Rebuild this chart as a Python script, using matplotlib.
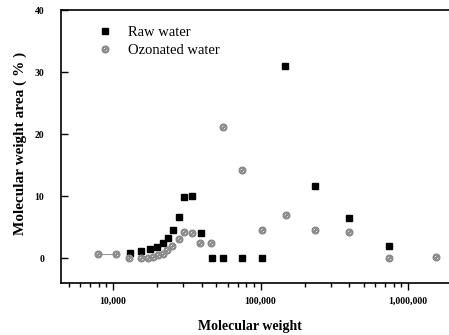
import matplotlib
matplotlib.use("Agg")
import matplotlib.pyplot as plt
from matplotlib.ticker import FixedLocator, LogLocator, NullFormatter

# molecular weight distribution
raw_mw = [13000, 15500, 17800, 20000, 21700, 23600, 25600, 28000, 30400, 34100,
          39300, 46700, 56000, 75300, 101900, 146600, 234000, 400000, 747000]
raw_area = [0.9, 1.1, 1.45, 1.85, 2.4, 3.2, 4.6, 6.7, 9.9, 10.1,
            4.0, 0.0, 0.0, 0.0, 0.0, 30.9, 11.7, 6.45, 1.95]

oz_mw = [7950, 10400, 12900, 15400, 17300, 18700, 20300, 21700, 23400, 25000,
         28000, 30400, 34100, 39100, 45900, 56000, 74600, 101900, 149000, 234000,
         400000, 747000, 1540000]
oz_area = [0.65, 0.65, 0.05, 0.05, 0.1, 0.25, 0.45, 0.75, 1.3, 1.9,
           3.1, 4.25, 4.1, 2.4, 2.5, 21.2, 14.2, 4.6, 6.9, 4.5,
           4.2, 0.1, 0.2]

y_ticks = [0, 10, 20, 30, 40]
x_ticks = [1e4, 1e5, 1e6]
x_labels = ["10,000", "100,000", "1,000,000"]

serif = ["Liberation Serif", "DejaVu Serif"]

fig = plt.figure(figsize=(4.49, 3.35), dpi=100)
ax = fig.add_axes([0.1359, 0.1552, 0.8717, 0.8149])

ax.plot(oz_mw[:2], oz_area[:2], "-", color="#999999", lw=0.8, zorder=2)
ax.plot(raw_mw, raw_area, ls="none", marker="s", ms=4.5, color="black",
        label="Raw water", zorder=3)
ax.plot(oz_mw, oz_area, ls="none", marker="$\\oslash$", ms=4.8, color="#8c8c8c",
        label="Ozonated water", zorder=3)

ax.set_xscale("log")
ax.set_xlim(4441, 2.0e6)
ax.set_ylim(-4, 40)

ax.xaxis.set_major_locator(FixedLocator(x_ticks))
ax.set_xticklabels(x_labels)
ax.xaxis.set_minor_locator(LogLocator(base=10, subs=range(2, 10)))
ax.xaxis.set_minor_formatter(NullFormatter())
ax.set_yticks(y_ticks)
ax.tick_params(axis="x", which="major", direction="out", length=5, width=1, pad=5)
ax.tick_params(axis="x", which="minor", direction="out", length=3, width=1)
ax.tick_params(axis="y", direction="in", length=5, width=1, pad=12)
ax.tick_params(top=False, right=False)
for lab in ax.get_xticklabels() + ax.get_yticklabels():
    lab.set_fontfamily(serif)
    lab.set_fontweight("bold")
    lab.set_fontsize(7)

ax.spines["right"].set_visible(False)
for s in ("left", "bottom", "top"):
    ax.spines[s].set_linewidth(1.2)

ax.set_xlabel("Molecular weight", fontfamily=serif, fontweight="bold", fontsize=10)
ax.xaxis.set_label_coords(0.483, -0.135)
ax.set_ylabel("Molecular weight area ( % )", fontfamily=serif, fontweight="bold",
              fontsize=11)
ax.yaxis.set_label_coords(-0.087, 0.51)

ax.legend(loc="upper left", bbox_to_anchor=(0.06, 0.99), frameon=False,
          prop={"family": serif, "size": 10.5}, handlelength=1.0,
          handletextpad=1.1, labelspacing=0.35)

fig.savefig("out.png", dpi=100)
